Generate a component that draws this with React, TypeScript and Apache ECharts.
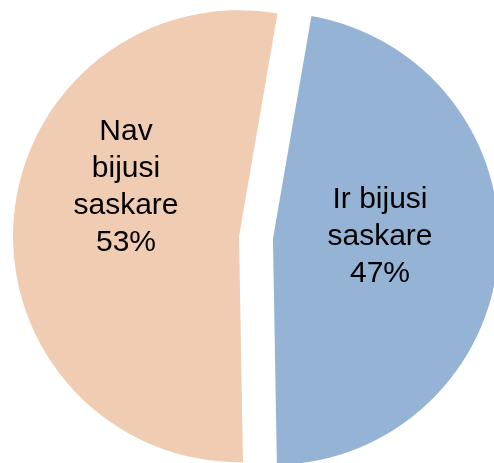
import React, { useEffect, useRef } from "react";
import * as echarts from "echarts";

const categories = ["Ir bijusi\nsaskare", "Nav\nbijusi\nsaskare"];
const values = [47, 53];
const colors = ["#95B4D5", "#F0CCB2"];
const labelPositions = [
  [380, 234],
  [126, 185],
];

const BASE_CENTER = [256, 237.5];
const RADIUS = 226;
const START_ANGLE = 80.2;
const EXPLODE = 17;

export default function App() {
  const ref = useRef<HTMLDivElement>(null);
  useEffect(() => {
    document.body.style.margin = "0";
    const chart = echarts.init(ref.current!, null, { renderer: "svg" });
    const total = values.reduce((a, b) => a + b, 0);
    let acc = 0;
    const series = values.map((v, k) => {
      const mid = START_ANGLE - ((acc + v / 2) / total) * 360;
      acc += v;
      const rad = (mid * Math.PI) / 180;
      const cx = BASE_CENTER[0] + EXPLODE * Math.cos(rad);
      const cy = BASE_CENTER[1] - EXPLODE * Math.sin(rad);
      return {
        type: "pie",
        center: [cx, cy],
        radius: [0, RADIUS],
        startAngle: START_ANGLE,
        clockwise: true,
        avoidLabelOverlap: false,
        emphasis: { disabled: true },
        itemStyle: { borderWidth: 0 },
        label: {
          show: true,
          position: "inside",
          formatter: "{b}\n{d}%",
          fontFamily: "Liberation Sans, Arial, sans-serif",
          fontSize: 30,
          lineHeight: 37,
          color: "#000",
          align: "center",
        },
        labelLine: { show: false },
        labelLayout: (p: any) => ({
          x: labelPositions[p.dataIndex][0],
          y: labelPositions[p.dataIndex][1],
          align: "center",
          verticalAlign: "middle",
        }),
        data: categories.map((c, i) => ({
          name: c,
          value: values[i],
          itemStyle: { color: i === k ? colors[i] : "rgba(0,0,0,0)" },
          label: { show: i === k },
        })),
      };
    });
    chart.setOption({ animation: false, series });
    return () => chart.dispose();
  }, []);
  return (
    <div
      ref={ref}
      style={{ position: "fixed", left: 0, top: 0, width: 494, height: 463 }}
    />
  );
}
